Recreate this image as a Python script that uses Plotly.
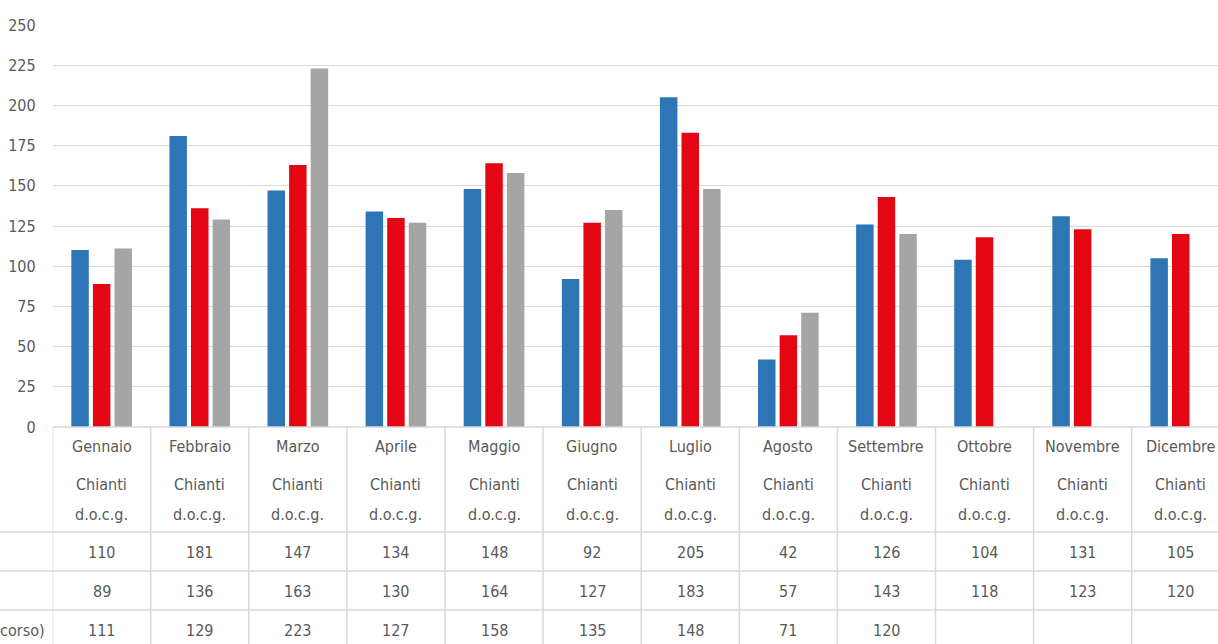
import plotly.graph_objects as go

W, H = 1218, 644

months = ["Gennaio", "Febbraio", "Marzo", "Aprile", "Maggio", "Giugno",
          "Luglio", "Agosto", "Settembre", "Ottobre", "Novembre", "Dicembre"]
sub1 = "Chianti"
sub2 = "d.o.c.g."
series_names = ["Chianti d.o.c.g. (anno 1)", "Chianti d.o.c.g. (anno 2)",
                "Chianti d.o.c.g. (anno in corso)"]
row_label_visible = "corso)"
s1 = [110, 181, 147, 134, 148, 92, 205, 42, 126, 104, 131, 105]
s2 = [89, 136, 163, 130, 164, 127, 183, 57, 143, 118, 123, 120]
s3 = [111, 129, 223, 127, 158, 135, 148, 71, 120, None, None, None]
colors = ["#2E75B6", "#E30613", "#A5A5A5"]
y_ticks = [0, 25, 50, 75, 100, 125, 150, 175, 200, 225, 250]

FONT = "DejaVu Sans Condensed, Liberation Sans Narrow, sans-serif"
FS = 16
TXT = "#595959"
GRID = "#D9D9D9"

# layout geometry (pixels)
x0_px = 52.6
cat_w = 98.1
plot_top, plot_bot = 25, 427

def py(p):
    return 1 - p / H

idx = list(range(len(months)))
fig = go.Figure()
for name, vals, col in zip(series_names, [s1, s2, s3], colors):
    fig.add_trace(go.Bar(x=idx, y=vals, name=name, marker_color=col,
                         marker_line_width=0, showlegend=False))

x_range = [-0.5, -0.5 + (W - x0_px) / cat_w]

fig.update_layout(
    width=W, height=H, autosize=False,
    margin=dict(l=0, r=0, t=0, b=0, pad=0),
    paper_bgcolor="white", plot_bgcolor="white",
    barmode="group", bargap=0.34, bargroupgap=0.19,
    font=dict(family=FONT, size=FS, color=TXT),
    xaxis=dict(domain=[x0_px / W, 1], range=x_range, showticklabels=False,
               showgrid=False, zeroline=False, showline=False, fixedrange=True,
               automargin=False),
    yaxis=dict(domain=[py(plot_bot), py(plot_top)], range=[0, 250],
               tickvals=y_ticks, showgrid=True, gridcolor=GRID, gridwidth=1,
               zeroline=False, showline=False, ticks="",
               ticklabelstandoff=16, automargin=False,
               tickfont=dict(family=FONT, size=FS, color=TXT)),
)

shapes = []
# table top border (at axis)
shapes.append(dict(type="line", xref="x domain", yref="paper", x0=0, x1=1,
                   y0=py(plot_bot), y1=py(plot_bot),
                   line=dict(color=GRID, width=1.5)))
# vertical grid lines of table
for i in range(len(months) + 1):
    shapes.append(dict(type="line", xref="x", yref="paper", x0=i - 0.5, x1=i - 0.5,
                       y0=py(plot_bot), y1=0, line=dict(color=GRID, width=1.5)))
# horizontal row lines
for yp in [532, 571, 610]:
    shapes.append(dict(type="line", xref="paper", yref="paper", x0=0, x1=1,
                       y0=py(yp), y1=py(yp), line=dict(color=GRID, width=1.5)))
fig.update_layout(shapes=shapes)

ann = []
for i, m in enumerate(months):
    for txt, yp in [(m, 446), (sub1, 484), (sub2, 514)]:
        ann.append(dict(x=i, y=py(yp), xref="x", yref="paper", text=txt,
                        showarrow=False, xanchor="center", yanchor="middle",
                        font=dict(family=FONT, size=FS, color=TXT)))
    for vals, yp in [(s1, 552), (s2, 591), (s3, 630)]:
        v = vals[i]
        if v is not None:
            ann.append(dict(x=i, y=py(yp), xref="x", yref="paper", text=str(v),
                            showarrow=False, xanchor="center", yanchor="middle",
                            font=dict(family=FONT, size=FS, color=TXT)))
ann.append(dict(x=47 / W, y=py(630), xref="paper", yref="paper", text=row_label_visible,
                showarrow=False, xanchor="right", yanchor="middle",
                font=dict(family=FONT, size=FS, color=TXT)))
fig.update_layout(annotations=ann)

fig.write_html("out.html")
